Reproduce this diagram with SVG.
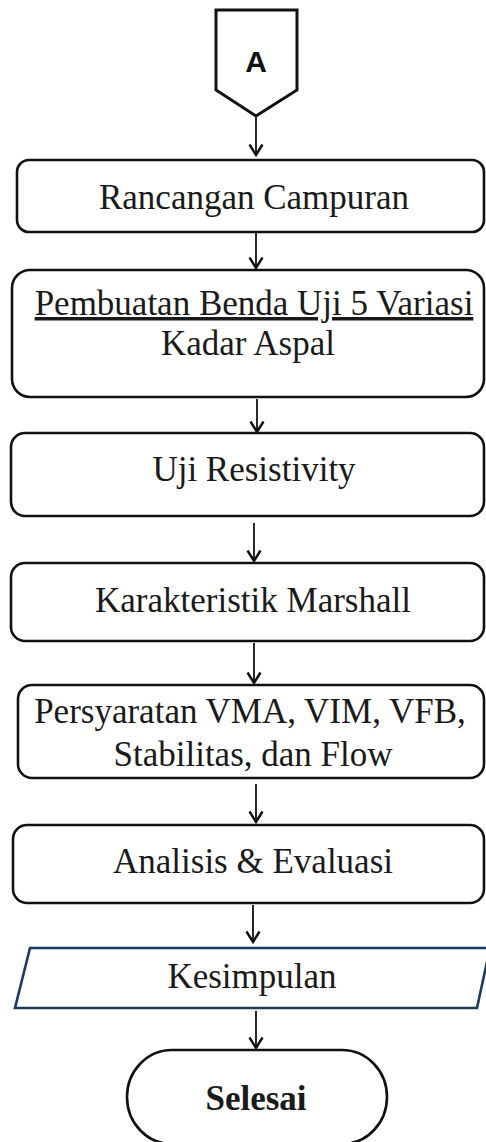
<svg xmlns="http://www.w3.org/2000/svg" width="486" height="1142" viewBox="0 0 486 1142">
<style>
.box{fill:#fff;stroke:#111;stroke-width:2.6}
.t{font-family:"Liberation Serif","Times New Roman",serif;font-size:35px;fill:#1a1a1a;text-anchor:middle}
.conn line{stroke:#111;stroke-width:1.8;marker-end:url(#ah)}
</style>
<defs>
<marker id="ah" markerUnits="userSpaceOnUse" markerWidth="14" markerHeight="16" refX="12" refY="8" orient="auto" viewBox="0 0 14 16">
<path d="M1.5,1.5 L12,8 L1.5,14.5" fill="none" stroke="#111" stroke-width="2.4"/>
</marker>
</defs>
<rect width="486" height="1142" fill="#fff"/>
<g id="connectors" class="conn">
<line x1="256" y1="117" x2="256" y2="155"/>
<line x1="256" y1="233" x2="256" y2="268"/>
<line x1="257" y1="399" x2="257" y2="432"/>
<line x1="254" y1="523" x2="254" y2="561"/>
<line x1="254" y1="643" x2="254" y2="683"/>
<line x1="256" y1="784" x2="256" y2="822"/>
<line x1="253" y1="905" x2="253" y2="942"/>
<line x1="256" y1="1011" x2="256" y2="1048"/>
</g>
<g id="A">
<path d="M216,10 L297,10 L297,90 L256,116 L216,90 Z" fill="#fff" stroke="#111" stroke-width="3"/>
<text x="256" y="72" font-family="Liberation Sans,Arial,sans-serif" font-size="30" font-weight="bold" text-anchor="middle" fill="#111">A</text>
</g>
<g id="rancangan">
<rect class="box" x="17" y="160" width="467" height="72" rx="12"/>
<text class="t" x="254" y="209">Rancangan Campuran</text>
</g>
<g id="pembuatan">
<rect class="box" x="12" y="270" width="472" height="127" rx="18"/>
<text class="t" x="254" y="315" text-decoration="underline">Pembuatan Benda Uji 5 Variasi</text>
<text class="t" x="248" y="355">Kadar Aspal</text>
</g>
<g id="resistivity">
<rect class="box" x="11" y="433" width="473" height="83" rx="14"/>
<text class="t" x="254" y="481">Uji Resistivity</text>
</g>
<g id="marshall">
<rect class="box" x="11" y="563" width="473" height="78" rx="14"/>
<text class="t" x="253" y="612">Karakteristik Marshall</text>
</g>
<g id="persyaratan">
<rect class="box" x="18" y="685" width="466" height="93" rx="14"/>
<text class="t" x="250" y="723">Persyaratan VMA, VIM, VFB,</text>
<text class="t" x="253" y="766">Stabilitas, dan Flow</text>
</g>
<g id="analisis">
<rect class="box" x="13" y="825" width="471" height="78" rx="14"/>
<text class="t" x="253" y="873">Analisis &amp; Evaluasi</text>
</g>
<g id="kesimpulan">
<path d="M30,948 L490,948 L477,1008 L15,1008 Z" fill="#fff" stroke="#1f3a5f" stroke-width="2.6"/>
<text class="t" x="252" y="988">Kesimpulan</text>
</g>
<g id="selesai">
<rect class="box" x="127" y="1050" width="260" height="94" rx="45" ry="47"/>
<text class="t" x="256" y="1110" font-weight="bold">Selesai</text>
</g>
</svg>
